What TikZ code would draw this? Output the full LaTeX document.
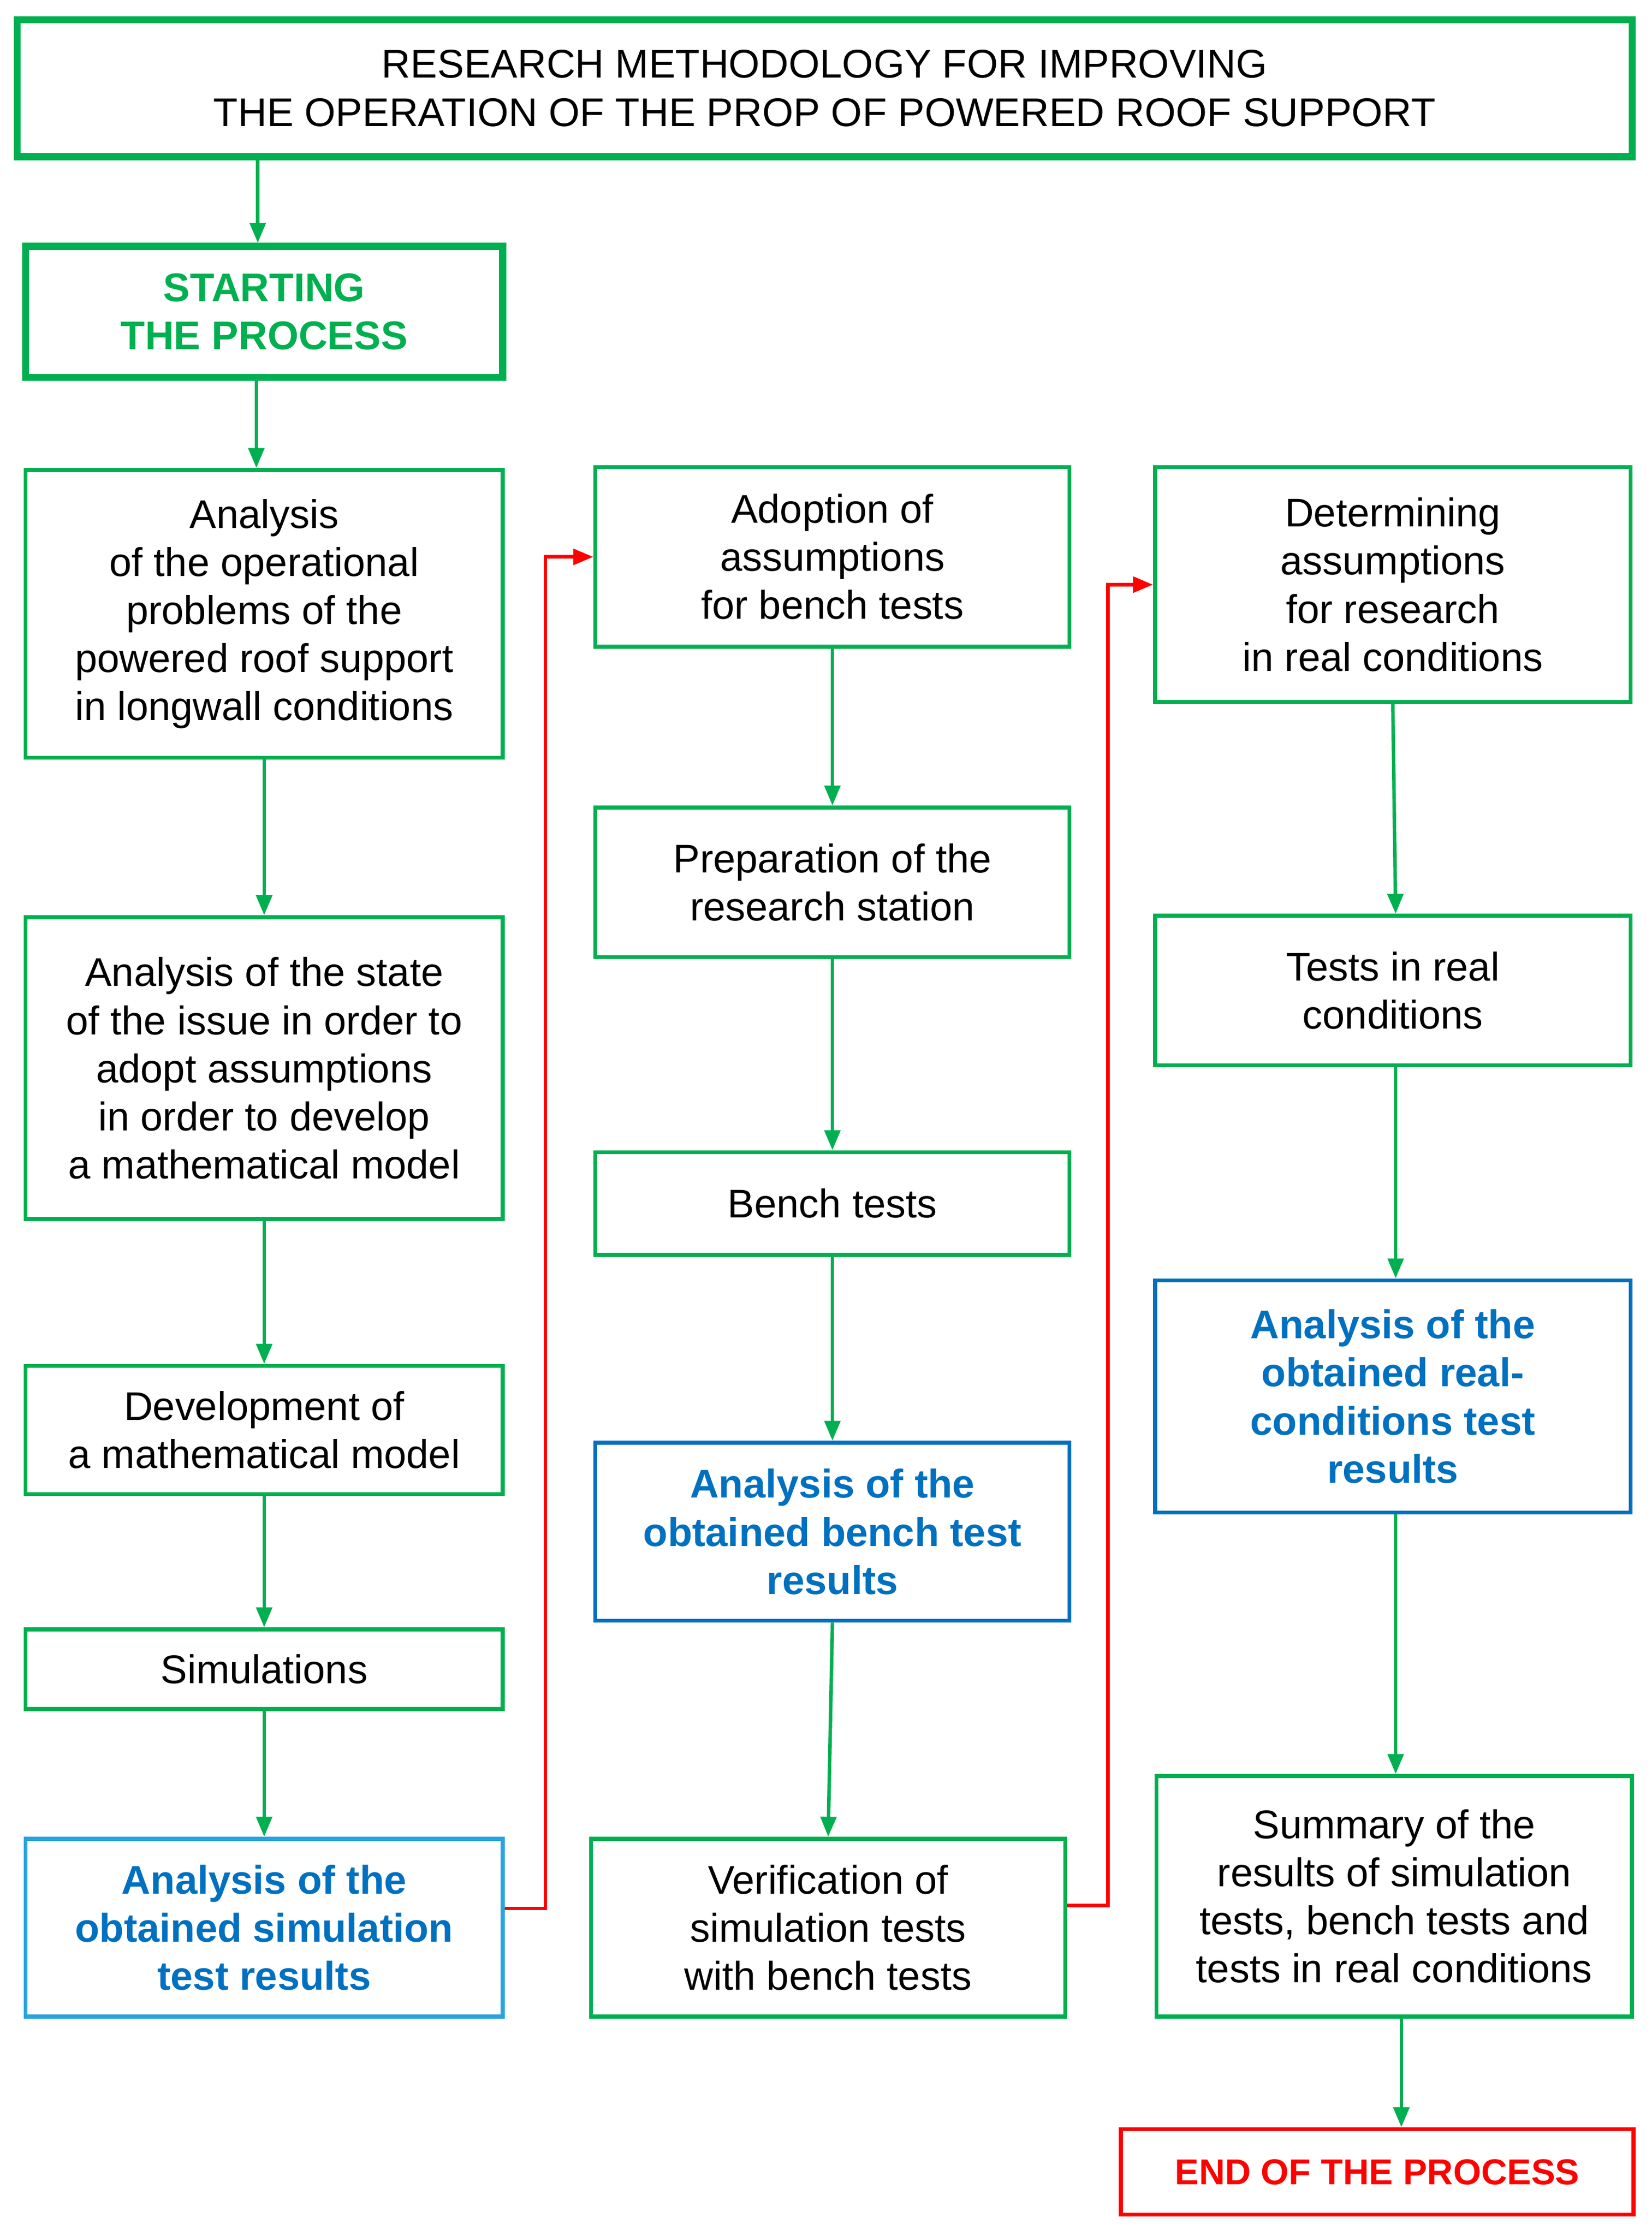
\documentclass[tikz,border=0pt]{standalone}
\usepackage{fontspec}
\setmainfont{Liberation Sans}
\usetikzlibrary{arrows.meta,calc}
\definecolor{gr}{HTML}{00B050}
\definecolor{db}{HTML}{0070C0}
\definecolor{lb}{HTML}{29A3E0}
\definecolor{rd}{HTML}{FF0000}
\begin{document}
\begin{tikzpicture}[x=0.05cm,y=-0.05cm,
  box/.style={draw=gr,line width=4pt,align=center,inner sep=0pt,font=\fontsize{40}{48}\selectfont},
  thk/.style={line width=7pt},
  btxt/.style={font=\fontsize{40}{48}\selectfont\bfseries,text=db},
  arr/.style={draw=gr,line width=3.5pt,-{Triangle[length=0.7cm,width=0.55cm]}},
  rarr/.style={draw=rd,line width=3.5pt,-{Triangle[length=0.7cm,width=0.55cm]}}]
\useasboundingbox[fill=white] (0,0) rectangle (1160,1570);
\node[box,thk,minimum width=56.7cm,minimum height=4.8cm] (t) at (579,62) {RESEARCH METHODOLOGY FOR IMPROVING\\THE OPERATION OF THE PROP OF POWERED ROOF SUPPORT};
\node[box,thk,minimum width=16.75cm,minimum height=4.6cm,font=\fontsize{40}{48}\selectfont\bfseries,text=gr] (s) at (185.5,219) {STARTING\\THE PROCESS};
\node[box,minimum width=16.75cm,minimum height=10.1cm] (a1) at (185.5,431) {Analysis\\of the operational\\problems of the\\powered roof support\\in longwall conditions};
\node[box,minimum width=16.75cm,minimum height=10.6cm] (a2) at (185.5,750) {Analysis of the state\\of the issue in order to\\adopt assumptions\\in order to develop\\a mathematical model};
\node[box,minimum width=16.75cm,minimum height=4.5cm] (a3) at (185.5,1004) {Development of\\a mathematical model};
\node[box,minimum width=16.75cm,minimum height=2.8cm] (a4) at (185.5,1172) {Simulations};
\node[box,draw=lb,minimum width=16.75cm,minimum height=6.25cm,btxt] (a5) at (185.5,1353.5) {Analysis of the\\obtained simulation\\test results};
\node[box,minimum width=16.65cm,minimum height=6.3cm] (b1) at (584.5,391) {Adoption of\\assumptions\\for bench tests};
\node[box,minimum width=16.65cm,minimum height=5.25cm] (b2) at (584.5,619.5) {Preparation of the\\research station};
\node[box,minimum width=16.65cm,minimum height=3.6cm] (b3) at (584.5,845) {Bench tests};
\node[box,draw=db,minimum width=16.65cm,minimum height=6.25cm,btxt] (b4) at (584.5,1075.5) {Analysis of the\\obtained bench test\\results};
\node[box,minimum width=16.65cm,minimum height=6.25cm] (b5) at (581.5,1353.5) {Verification of\\simulation tests\\with bench tests};
\node[box,minimum width=16.7cm,minimum height=8.25cm] (c1) at (978,410.5) {Determining\\assumptions\\for research\\in real conditions};
\node[box,minimum width=16.7cm,minimum height=5.25cm] (c2) at (978,695.5) {Tests in real\\conditions};
\node[box,draw=db,minimum width=16.7cm,minimum height=8.15cm,btxt] (c3) at (978,980.5) {Analysis of the\\obtained real-\\conditions test\\results};
\node[box,minimum width=16.7cm,minimum height=8.45cm] (c4) at (979,1331.5) {Summary of the\\results of simulation\\tests, bench tests and\\tests in real conditions};
\node[box,draw=rd,minimum width=18cm,minimum height=3cm,font=\fontsize{36}{44}\selectfont\bfseries,text=rd] (e) at (967,1525) {END OF THE PROCESS};
\draw[arr] (t.south -| 181,0) -- (s.north -| 181,0);
\draw[arr] (s.south -| 180,0) -- (a1.north -| 180,0);
\draw[arr] (a1) -- (a2);
\draw[arr] (a2) -- (a3);
\draw[arr] (a3) -- (a4);
\draw[arr] (a4) -- (a5);
\draw[arr] (b1) -- (b2);
\draw[arr] (b2) -- (b3);
\draw[arr] (b3) -- (b4);
\draw[arr] (b4.south) -- (b5.north);
\draw[arr] (c1.south) -- (c2.north -| 980,0);
\draw[arr] (c2.south -| 980,0) -- (c3.north -| 980,0);
\draw[arr] (c3.south -| 980,0) -- (c4.north -| 980,0);
\draw[arr] (c4.south -| 984,0) -- (e.north -| 984,0);
\coordinate (r1) at (383,1340);
\coordinate (r2) at (778,1338);
\draw[rarr] (a5.east |- r1) -- (r1) |- (b1.west);
\draw[rarr] (b5.east |- r2) -- (r2) |- (c1.west);
\end{tikzpicture}
\end{document}
